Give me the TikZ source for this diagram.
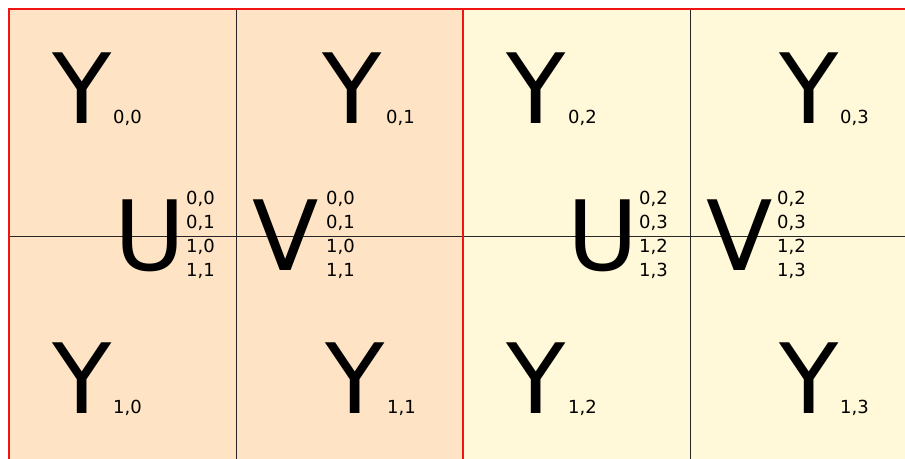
\documentclass[tikz,border=0pt]{standalone}
\usepackage{fontspec}
\setmainfont{DejaVu Sans}
\definecolor{leftfill}{RGB}{254,228,196}
\definecolor{rightfill}{RGB}{255,249,218}
\definecolor{frame}{RGB}{240,20,20}
\tikzset{
  big/.style={font=\fontsize{97}{97}\selectfont, inner sep=0pt, anchor=base west},
  subtxt/.style={font=\fontsize{18}{24}\selectfont, inner sep=0pt, anchor=base west},
  gridline/.style={draw=black!85, line width=0.9pt},
  redline/.style={draw=frame, line width=2pt}
}
\begin{document}
\begin{tikzpicture}[x=1pt,y=-1pt]
\useasboundingbox (0,0) rectangle (905,458);
\begin{scope}
\clip (0,0) rectangle (905,458);
\fill[white] (0,0) rectangle (905,458);
\fill[leftfill] (9,9) rectangle (463,470);
\fill[rightfill] (463,9) rectangle (920,470);
\draw[gridline] (236,9) -- (236,470);
\draw[gridline] (690,9) -- (690,470);
\draw[gridline] (9,236) -- (920,236);
\draw[redline] (9,470) -- (9,9) -- (920,9);
\draw[redline] (463,9) -- (463,470);
\end{scope}
% Y letters
\node[big] (y00) at (52,123) {Y};
\node[subtxt] (s00) at (113,123) {0,0};
\node[big] (y01) at (322,123) {Y};
\node[subtxt] (s01) at (386,123) {0,1};
\node[big] (y02) at (506,123) {Y};
\node[subtxt] (s02) at (568,123) {0,2};
\node[big] (y03) at (779,123) {Y};
\node[subtxt] (s03) at (840,123) {0,3};
\node[big] (y10) at (52,413) {Y};
\node[subtxt] (s10) at (113,413) {1,0};
\node[big] (y11) at (325,413) {Y};
\node[subtxt] (s11) at (387,413) {1,1};
\node[big] (y12) at (506,413) {Y};
\node[subtxt] (s12) at (568,413) {1,2};
\node[big] (y13) at (779,413) {Y};
\node[subtxt] (s13) at (840,413) {1,3};
% U and V
\node[big] (u1) at (114,270) {U};
\node[big] (v1) at (252,270) {V};
\node[big] (u2) at (567,270) {U};
\node[big] (v2) at (706,270) {V};
% stacks
\node[subtxt] (a1) at (186,204) {0,0};
\node[subtxt] (a2) at (186,228) {0,1};
\node[subtxt] (a3) at (186,252) {1,0};
\node[subtxt] (a4) at (186,276) {1,1};
\node[subtxt] (b1) at (326,204) {0,0};
\node[subtxt] (b2) at (326,228) {0,1};
\node[subtxt] (b3) at (326,252) {1,0};
\node[subtxt] (b4) at (326,276) {1,1};
\node[subtxt] (c1) at (639,204) {0,2};
\node[subtxt] (c2) at (639,228) {0,3};
\node[subtxt] (c3) at (639,252) {1,2};
\node[subtxt] (c4) at (639,276) {1,3};
\node[subtxt] (d1) at (777,204) {0,2};
\node[subtxt] (d2) at (777,228) {0,3};
\node[subtxt] (d3) at (777,252) {1,2};
\node[subtxt] (d4) at (777,276) {1,3};
\end{tikzpicture}
\end{document}
